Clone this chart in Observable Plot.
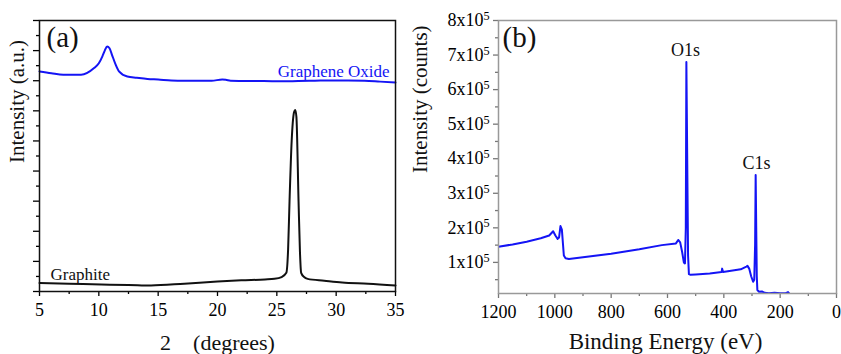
<!DOCTYPE html>
<html>
<head>
<meta charset="utf-8">
<script src="https://cdn.jsdelivr.net/npm/d3@7"></script>
<script src="https://cdn.jsdelivr.net/npm/@observablehq/plot@0.6"></script>
<style>
  html, body { margin: 0; padding: 0; background: white; }
  #wrap { position: relative; width: 841px; height: 354px; overflow: hidden; background: white; }
  #pa { position: absolute; left: 0; top: 0; }
  #pb { position: absolute; left: 420px; top: 0; }
  #pb svg { overflow: visible; }
  #wrap svg, #wrap svg text, #wrap svg tspan { font-family: "Liberation Serif", "Tinos", "Times New Roman", "DejaVu Serif", serif !important; }
</style>
</head>
<body>
<div id="wrap"><div id="pa"></div><div id="pb"></div></div>
<script>
// ---- Panel (a): XRD ----
const goTheta = [5.0, 6.0, 7.0, 8.5, 9.6, 10.0, 10.3, 10.5, 10.7, 10.9, 11.1, 11.4, 11.7, 12.4, 13.2, 14.1, 15.0, 16.1, 17.2, 18.3, 19.5, 20.4, 20.7, 21.1, 22.5, 23.9, 25.3, 26.8, 28.2, 29.6, 31.0, 32.4, 33.7, 35.0];
const goIntensity = [7.31, 7.25, 7.2, 7.2, 7.42, 7.58, 7.81, 8.0, 8.14, 8.08, 7.87, 7.55, 7.31, 7.14, 7.1, 7.06, 7.04, 7.01, 7.0, 7.0, 7.0, 7.04, 7.03, 7.0, 6.99, 6.99, 6.98, 6.99, 7.0, 7.01, 7.01, 7.0, 6.97, 6.94];
const graphiteTheta = [5.0, 7.5, 10.2, 12.5, 14.4, 17.2, 20.0, 22.0, 24.0, 24.8, 25.4, 25.8, 25.95, 26.07, 26.25, 26.45, 26.55, 26.65, 26.83, 26.95, 27.05, 27.3, 27.6, 29.0, 30.5, 32.7, 35.0];
const graphiteIntensity = [0.28, 0.26, 0.23, 0.22, 0.2, 0.26, 0.33, 0.37, 0.4, 0.42, 0.48, 0.62, 1.4, 3.0, 5.0, 5.95, 6.03, 5.8, 3.0, 1.3, 0.62, 0.48, 0.42, 0.36, 0.3, 0.26, 0.2];
const xrdTicks = [5, 10, 15, 20, 25, 30, 35];
const xrdMinorTicks = [7.5, 12.5, 17.5, 22.5, 27.5, 32.5];
const xrdYTicks = [0, 1, 2, 3, 4, 5, 6, 7, 8, 9];
const xrdYMinorTicks = [0.5, 1.5, 2.5, 3.5, 4.5, 5.5, 6.5, 7.5, 8.5];

// ---- Panel (b): XPS ----
const xpsEnergy = [1200, 1150, 1100, 1050, 1020, 1006, 998, 990, 985, 980, 975, 968, 962, 950, 900, 800, 700, 620, 570, 562, 555, 548, 542, 538, 535, 533, 530, 527, 524, 518, 500, 450, 408, 406, 403, 380, 340, 320, 316, 310, 303, 296, 292, 289, 287, 285, 283, 281, 275, 265, 255, 240, 220, 200, 180, 172, 168];
const xpsCounts = [145000, 152000, 160000, 170000, 178000, 190000, 178000, 168000, 172000, 205000, 195000, 120000, 112000, 110000, 115000, 125000, 138000, 150000, 155000, 165000, 158000, 130000, 100000, 97000, 200000, 680000, 400000, 120000, 66000, 64000, 65000, 68000, 72000, 82000, 72000, 75000, 80000, 88000, 90000, 82000, 60000, 44000, 50000, 150000, 353000, 200000, 60000, 20000, 15000, 16000, 12000, 11000, 12000, 10500, 11000, 14000, 10500];
const xpsTicks = [1200, 1000, 800, 600, 400, 200, 0];
const xpsMinorTicks = [1100, 900, 700, 500, 300, 100];
const xpsYTicks = [100000, 200000, 300000, 400000, 500000, 600000, 700000, 800000];
const xpsYMinorTicks = [50000, 150000, 250000, 350000, 450000, 550000, 650000, 750000];

const serif = "Liberation Serif, Tinos, Times New Roman, DejaVu Serif, serif";
const blue = "#1414f5";

const goData = goTheta.map((t, i) => ({t, v: goIntensity[i]}));
const grData = graphiteTheta.map((t, i) => ({t, v: graphiteIntensity[i]}));
const xpsData = xpsEnergy.map((e, i) => ({e, c: xpsCounts[i]}));

const plotA = Plot.plot({
  width: 420, height: 354,
  marginLeft: 39, marginRight: 25, marginTop: 20, marginBottom: 63,
  style: {fontSize: "18px", color: "black", background: "white"},
  x: {domain: [5, 35]},
  y: {domain: [0, 9]},
  marks: [
    Plot.axisX({ticks: xrdTicks, tickSize: 5, tickPadding: 7, tickFormat: d => String(d), label: null, strokeWidth: 1.3, fontFamily: serif}),
    Plot.axisX({ticks: xrdMinorTicks, tickSize: 3, tickFormat: () => "", label: null, strokeWidth: 1.3}),
    Plot.axisY({ticks: xrdYTicks, tickSize: 6, tickFormat: () => "", label: null, strokeWidth: 1.3}),
    Plot.axisY({ticks: xrdYMinorTicks, tickSize: 3, tickFormat: () => "", label: null, strokeWidth: 1.3}),
    Plot.line(goData, {x: "t", y: "v", stroke: blue, strokeWidth: 2, curve: "monotone-x"}),
    Plot.line(grData, {x: "t", y: "v", stroke: "#111", strokeWidth: 2, curve: "monotone-x"}),
    Plot.frame({stroke: "#111", strokeWidth: 1.5}),
    Plot.text(["Graphene Oxide"], {x: 34.5, y: 7.3, text: d => d, fill: blue, fontFamily: serif, fontSize: 17, textAnchor: "end", lineAnchor: "middle"}),
    Plot.text(["Graphite"], {x: 5.93, y: 0.55, text: d => d, fill: "#111", fontFamily: serif, fontSize: 17, textAnchor: "start", lineAnchor: "middle"}),
    Plot.text(["(a)"], {frameAnchor: "top-left", dx: 7, dy: 6, text: d => d, fontFamily: serif, fontSize: 29, textAnchor: "start", lineAnchor: "top", fill: "#111"}),
    Plot.text(["2    (degrees)"], {frameAnchor: "bottom", dy: 51, text: d => d, fontFamily: serif, fontSize: 22, lineAnchor: "middle", fill: "#111"}),
    Plot.text(["Intensity (a.u.)"], {frameAnchor: "left", dx: -22, dy: 7, rotate: -90, text: d => d, fontFamily: serif, fontSize: 21, lineAnchor: "middle", fill: "#111"})
  ]
});
document.getElementById("pa").appendChild(plotA);

const plotB = Plot.plot({
  width: 421, height: 354,
  marginLeft: 78, marginRight: 5, marginTop: 20, marginBottom: 61,
  style: {fontSize: "18px", color: "black", background: "white", overflow: "visible"},
  x: {domain: [1200, 0]},
  y: {domain: [10000, 800000]},
  marks: [
    Plot.axisX({ticks: xpsTicks, tickSize: 5, tickPadding: 7, tickFormat: d => String(d), label: null, stroke: "#777", strokeWidth: 1.3, fontFamily: serif}),
    Plot.axisX({ticks: xpsMinorTicks, tickSize: 3, tickFormat: () => "", label: null, stroke: "#777", strokeWidth: 1.3}),
    Plot.axisY({ticks: xpsYTicks, tickSize: 5, tickPadding: 4, tickFormat: d => `${d / 100000}x10`, label: null, stroke: "#777", strokeWidth: 1.3, fontFamily: serif}),
    Plot.axisY({ticks: xpsYMinorTicks, tickSize: 3, tickFormat: () => "", label: null, stroke: "#777", strokeWidth: 1.3}),
    Plot.line(xpsData, {x: "e", y: "c", stroke: blue, strokeWidth: 2, clip: true}),
    Plot.frame({stroke: "#999", strokeWidth: 1.5}),
    Plot.text(["O1s"], {x: 536, y: 714000, text: d => d, fontFamily: serif, fontSize: 18, lineAnchor: "middle", fill: "#111"}),
    Plot.text(["C1s"], {x: 284, y: 387000, text: d => d, fontFamily: serif, fontSize: 18, lineAnchor: "middle", fill: "#111"}),
    Plot.text(["(b)"], {frameAnchor: "top-left", dx: 4, dy: 6, text: d => d, fontFamily: serif, fontSize: 29, textAnchor: "start", lineAnchor: "top", fill: "#111"}),
    Plot.text(["Binding Energy (eV)"], {frameAnchor: "bottom", dy: 48, dx: -2, text: d => d, fontFamily: serif, fontSize: 23, lineAnchor: "middle", fill: "#111"}),
    Plot.text(["Intensity (counts)"], {frameAnchor: "left", dx: -78, dy: 16, rotate: -90, text: d => d, fontFamily: serif, fontSize: 21, lineAnchor: "middle", fill: "#111"})
  ]
});
document.getElementById("pb").appendChild(plotB);

// superscript exponent on the y tick labels of panel (b)
d3.select(plotB).selectAll('g[aria-label="y-axis tick label"] text').each(function () {
  const t = d3.select(this);
  if (t.text().endsWith("x10")) {
    t.append("tspan").attr("dy", "-0.5em").attr("font-size", "0.68em").text("5");
  }
});
</script>
</body>
</html>
